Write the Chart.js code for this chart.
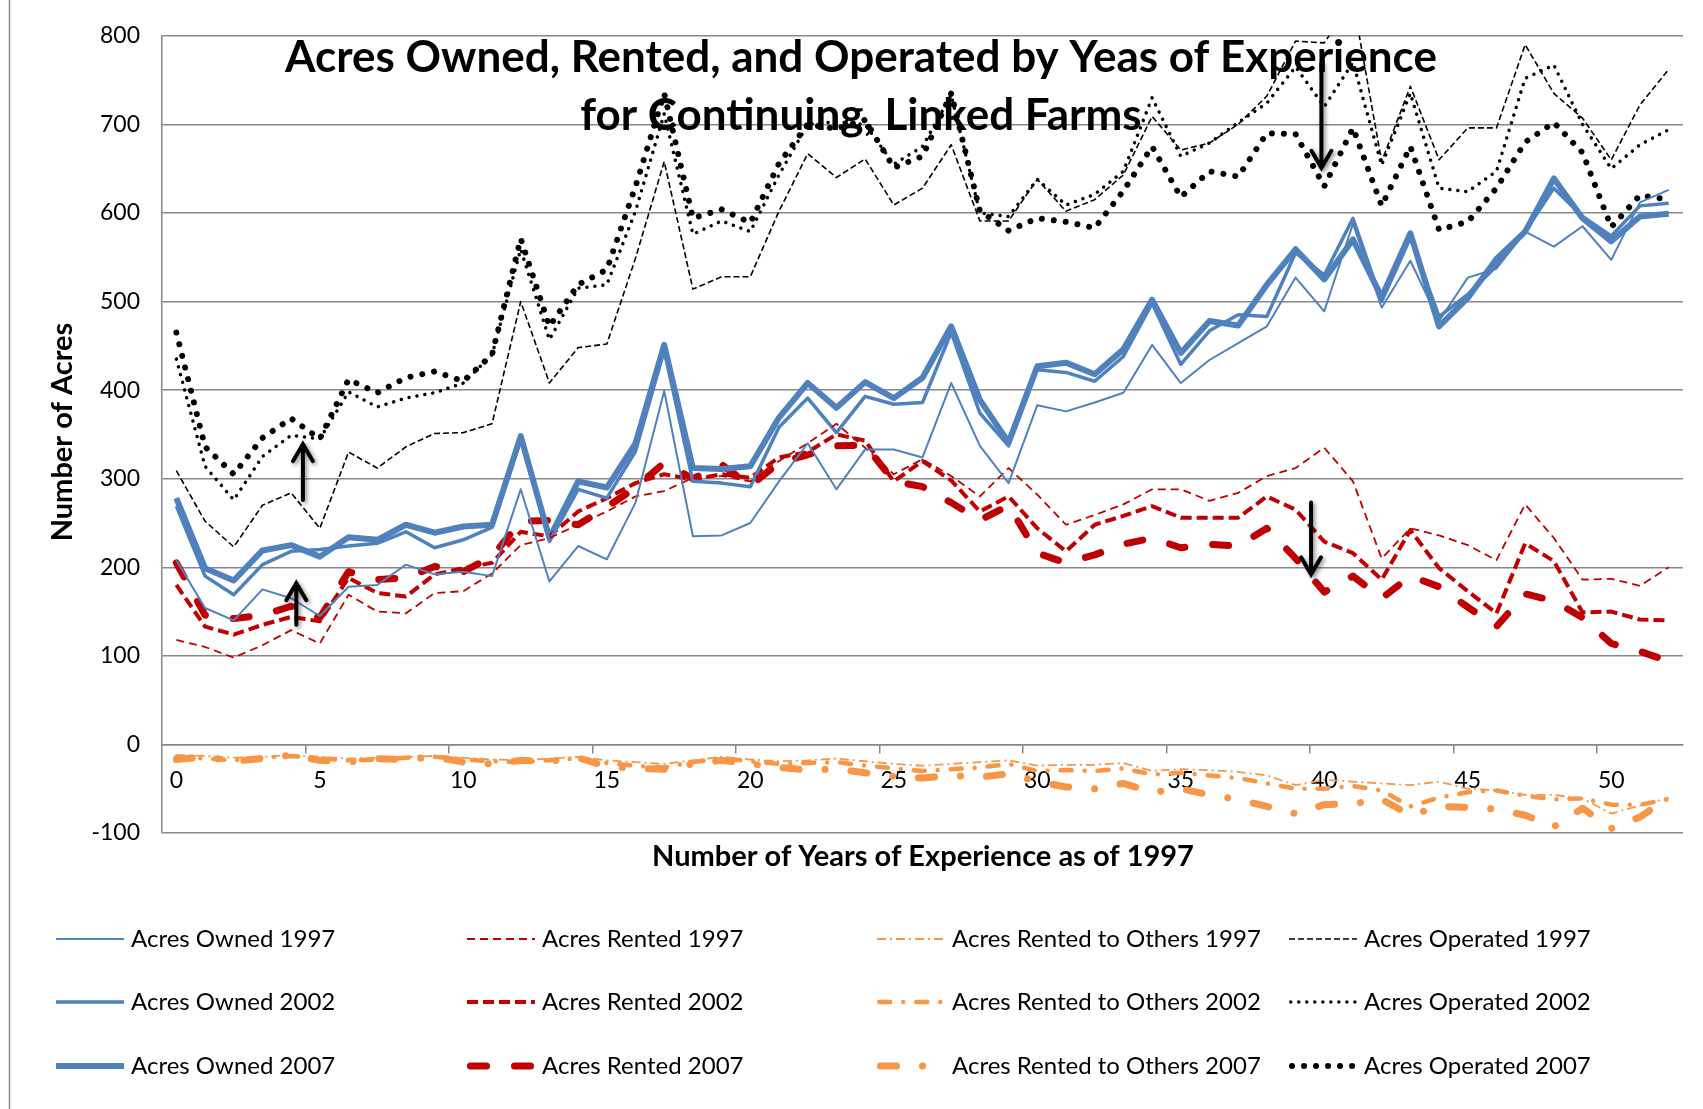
<!DOCTYPE html>
<html><head><meta charset="utf-8">
<script src="https://cdn.jsdelivr.net/npm/chart.js@4/dist/chart.umd.min.js"></script>
<style>html,body{margin:0;padding:0;background:#fff}#wrap{position:relative;width:1703px;height:1109px}</style>
</head><body><div id="wrap"><canvas id="c"></canvas></div>
<script>
// ---------- DATA ----------
const years = ["0","1","2","3","4","5","6","7","8","9","10","11","12","13","14","15","16","17","18","19","20","21","22","23","24","25","26","27","28","29","30","31","32","33","34","35","36","37","38","39","40","41","42","43","44","45","46","47","48","49","50","51","52"];

const owned1997 = [208,154,140,175,165,145,178,180,203,192,195,190,288,184,224,209,273,399,235,236,250,297,340,288,333,333,324,408,337,295,383,376,386,397,451,408,434,453,472,527,489,588,493,546,478,527,537,579,562,585,547,612,626];
const owned2002 = [269,190,169,203,218,220,224,227,240,222,231,245,344,229,288,278,331,445,297,295,291,358,391,352,393,384,386,465,374,337,423,420,410,438,498,429,467,485,483,555,530,594,500,572,483,508,540,579,628,596,574,608,611];
const owned2007 = [278,199,185,219,225,212,234,231,248,239,246,248,348,233,297,290,340,451,312,311,314,369,408,380,409,391,414,472,389,341,427,431,418,446,502,442,478,473,519,559,525,570,505,577,472,504,548,579,639,594,568,596,599];

const rented1997 = [118,110,98,112,129,114,169,150,148,171,173,193,225,233,248,263,280,286,301,303,297,320,340,362,335,305,322,303,280,312,282,248,259,271,288,288,275,284,303,312,335,297,210,244,236,225,208,271,233,186,187,179,200];
const rented2002 = [180,133,124,135,144,139,188,171,167,192,199,205,240,235,263,278,295,305,299,305,301,324,330,350,343,297,320,298,263,280,244,218,248,258,269,256,256,256,280,265,229,216,186,242,199,173,148,227,207,149,150,141,140];
const rented2007 = [205,146,142,146,156,143,195,186,188,201,195,212,252,253,248,268,290,318,300,316,292,318,327,337,338,297,291,273,253,270,216,205,214,226,233,222,226,224,244,210,172,190,165,190,178,155,133,170,162,143,114,105,94];

const rentedOut1997 = [-12,-13,-15,-14,-12,-14,-16,-15,-14,-13,-15,-17,-18,-16,-14,-18,-20,-22,-18,-14,-17,-19,-18,-16,-19,-22,-24,-22,-20,-18,-24,-23,-23,-21,-30,-28,-29,-31,-35,-46,-40,-42,-44,-46,-42,-50,-52,-57,-57,-61,-78,-69,-60];
const rentedOut2002 = [-14,-16,-18,-15,-13,-16,-18,-17,-15,-14,-17,-19,-20,-18,-16,-21,-24,-26,-20,-16,-19,-22,-21,-20,-24,-27,-30,-28,-26,-22,-30,-29,-30,-27,-34,-32,-35,-38,-44,-50,-50,-47,-52,-70,-60,-54,-52,-58,-62,-61,-68,-68,-62];
const rentedOut2007 = [-17,-14,-19,-16,-12,-18,-20,-16,-17,-14,-20,-22,-18,-19,-15,-25,-27,-28,-22,-18,-22,-26,-29,-28,-32,-36,-38,-35,-37,-33,-42,-48,-50,-44,-54,-50,-57,-62,-70,-78,-68,-67,-62,-80,-70,-71,-73,-80,-93,-72,-95,-82,-60];

const operated1997 = [309,252,223,270,284,244,330,312,336,351,352,362,500,408,448,452,549,658,514,528,528,602,667,640,661,609,628,677,591,591,638,602,615,643,709,671,679,700,732,794,792,840,658,743,660,696,696,790,735,707,660,722,762];
const operated2002 = [435,314,276,325,349,345,398,381,391,397,408,440,559,457,515,519,602,712,576,591,579,643,700,703,700,655,675,733,600,596,638,609,621,647,730,664,679,702,724,765,720,770,654,735,628,624,647,752,767,700,650,677,694];
const operated2007 = [465,336,305,346,368,345,412,397,414,421,410,440,571,472,519,536,630,735,594,604,589,656,700,695,705,651,664,735,602,580,594,590,583,625,675,618,647,641,690,689,630,696,608,675,581,590,628,680,702,668,584,620,615];

const seriesNames = ["Acres Owned 1997","Acres Rented 1997","Acres Rented to Others 1997","Acres Operated 1997",
                     "Acres Owned 2002","Acres Rented 2002","Acres Rented to Others 2002","Acres Operated 2002",
                     "Acres Owned 2007","Acres Rented 2007","Acres Rented to Others 2007","Acres Operated 2007"];
const titleLines = ["Acres Owned, Rented, and Operated by Yeas of Experience", "for Continuing, Linked Farms"];
const yAxisTitle = "Number of Acres";
const xAxisTitle = "Number of Years of Experience as of 1997";
const yMin = -100, yMax = 800, yStep = 100;
const xLabelEvery = 5;
// annotation arrows (category position, tail value, tip value)
const arrowX = [4.41, 4.18, 39.9, 39.54];
const arrowFrom = [276, 135, 769, 273];
const arrowTo = [339, 182, 651, 192];

// ---------- STYLES ----------
const BLUE = '#4F81BD', RED = '#C00000', ORANGE = '#F79646', BLACK = '#000000';
const styles = [
  {c: BLUE,   w: 2,   d: [],              cap: 'butt'},
  {c: RED,    w: 1.8, d: [8,5],           cap: 'butt'},
  {c: ORANGE, w: 1.8, d: [9,4,2,4],       cap: 'butt'},
  {c: BLACK,  w: 1.6, d: [6,3],           cap: 'butt'},
  {c: BLUE,   w: 3.5, d: [],              cap: 'butt'},
  {c: RED,    w: 4,   d: [11,5],          cap: 'butt'},
  {c: ORANGE, w: 4.5, d: [11,13,0.01,13], cap: 'round'},
  {c: BLACK,  w: 3.5, d: [0.01,8],        cap: 'round'},
  {c: BLUE,   w: 6,   d: [],              cap: 'butt'},
  {c: RED,    w: 7,   d: [16,28],         cap: 'round'},
  {c: ORANGE, w: 7,   d: [16,26,0.01,26], cap: 'round'},
  {c: BLACK,  w: 6,   d: [0.01,12],       cap: 'round'}
];
const seriesData = [owned1997, rented1997, rentedOut1997, operated1997,
                    owned2002, rented2002, rentedOut2002, operated2002,
                    owned2007, rented2007, rentedOut2007, operated2007];

const datasets = seriesData.map((d, i) => ({
  label: seriesNames[i],
  data: d,
  borderColor: styles[i].c,
  backgroundColor: styles[i].c,
  borderWidth: styles[i].w,
  borderDash: styles[i].d,
  borderCapStyle: styles[i].cap,
  borderJoinStyle: 'round',
  pointRadius: 0,
  pointHoverRadius: 0,
  tension: 0,
  fill: false
}));

const FONT = 'Lato, "Open Sans", sans-serif';
const GRID = '#878787';

const overlay = {
  id: 'overlay',
  beforeDraw(chart) {
    const ctx = chart.ctx;
    ctx.save();
    ctx.fillStyle = '#fff';
    ctx.fillRect(0, 0, chart.width, chart.height);
    ctx.strokeStyle = GRID; ctx.lineWidth = 1.5;
    ctx.beginPath(); ctx.moveTo(9.5, 0); ctx.lineTo(9.5, chart.height); ctx.stroke();
    ctx.restore();
  },
  afterDatasetsDraw(chart) {
    const ctx = chart.ctx, xs = chart.scales.x, ys = chart.scales.y;
    // arrows
    ctx.save();
    ctx.strokeStyle = '#000'; ctx.lineWidth = 4; ctx.lineCap = 'round'; ctx.lineJoin = 'miter';
    ctx.shadowColor = 'rgba(0,0,0,0.45)'; ctx.shadowBlur = 4; ctx.shadowOffsetX = 2; ctx.shadowOffsetY = 2;
    for (let i = 0; i < arrowX.length; i++) {
      const x = xs.getPixelForValue(arrowX[i]);
      const y1 = ys.getPixelForValue(arrowFrom[i]);
      const y2 = ys.getPixelForValue(arrowTo[i]);
      const dir = Math.sign(y2 - y1);
      ctx.beginPath();
      ctx.moveTo(x, y1); ctx.lineTo(x, y2);
      ctx.moveTo(x - 10, y2 - dir * 17); ctx.lineTo(x, y2); ctx.lineTo(x + 10, y2 - dir * 17);
      ctx.stroke();
    }
    ctx.restore();
    // title
    ctx.save();
    ctx.fillStyle = '#000';
    ctx.font = 'bold 44px ' + FONT;
    ctx.textAlign = 'center'; ctx.textBaseline = 'middle';
    ctx.fillText(titleLines[0], 861, 58);
    ctx.fillText(titleLines[1], 861, 116);
    ctx.restore();
  },
  afterDraw(chart) {
    const ctx = chart.ctx;
    ctx.save();
    ctx.fillStyle = '#000';
    ctx.font = 'bold 29px ' + FONT;
    ctx.textAlign = 'center'; ctx.textBaseline = 'middle';
    ctx.fillText(xAxisTitle, 923, 857);
    ctx.translate(63, 432); ctx.rotate(-Math.PI / 2);
    ctx.fillText(yAxisTitle, 0, 0);
    ctx.restore();
    // legend: 3 rows (years) x 4 columns (measures)
    const colX = [56, 467, 877, 1289];
    const rowY = [939, 1002, 1066];
    const sampleLen = 68;
    chart.data.datasets.forEach((ds, i) => {
      const col = i % 4, row = Math.floor(i / 4);
      const x = colX[col], y = rowY[row];
      ctx.save();
      ctx.beginPath();
      ctx.rect(x - 2, y - 15, sampleLen + 4, 30);
      ctx.clip();
      ctx.strokeStyle = ds.borderColor; ctx.lineWidth = ds.borderWidth;
      ctx.setLineDash(ds.borderDash); ctx.lineCap = ds.borderCapStyle;
      ctx.beginPath(); ctx.moveTo(x + (ds.borderCapStyle === 'round' ? ds.borderWidth / 2 : 0), y); ctx.lineTo(x + sampleLen, y); ctx.stroke();
      ctx.restore();
      ctx.save();
      ctx.fillStyle = '#000'; ctx.font = '24px ' + FONT;
      ctx.textAlign = 'left'; ctx.textBaseline = 'middle';
      ctx.fillText(ds.label, x + sampleLen + 7, y);
      ctx.restore();
    });
  }
};

new Chart(document.getElementById('c'), {
  type: 'line',
  data: { labels: years, datasets: datasets },
  plugins: [overlay],
  options: {
    responsive: true, maintainAspectRatio: false, animation: false, devicePixelRatio: 1,
    layout: { padding: { top: 35, right: 20, bottom: 276, left: 0 } },
    plugins: { legend: { display: false }, title: { display: false }, tooltip: { enabled: false } },
    events: [],
    scales: {
      y: {
        min: yMin, max: yMax,
        afterFit(s) { s.width = 162; },
        ticks: { stepSize: yStep, padding: 22, color: '#000', font: { family: FONT, size: 23 } },
        grid: { color: GRID, lineWidth: 1.5, drawTicks: false },
        border: { display: true, color: GRID, width: 1.5 }
      },
      x: {
        type: 'category',
        position: { y: 0 },
        offset: true,
        z: 1,
        ticks: {
          autoSkip: false, maxRotation: 0, minRotation: 0, padding: 14, color: '#000',
          font: { family: FONT, size: 23 },
          callback(value, index) { return index % xLabelEvery === 0 ? years[index] : ''; }
        },
        grid: {
          offset: true, drawOnChartArea: false, drawTicks: true, tickLength: 8, lineWidth: 1.5,
          tickColor: (c) => (c.index % xLabelEvery === 0 && c.index > 0) ? GRID : 'rgba(0,0,0,0)'
        },
        border: { display: true, color: GRID, width: 1.5 }
      }
    }
  }
});
</script>
</body></html>
